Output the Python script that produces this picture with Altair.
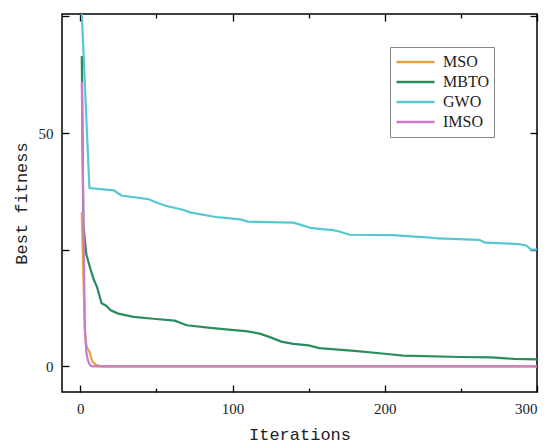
import altair as alt
import pandas as pd

# ---- data ----
gwo_x = [1, 6, 22, 27, 45, 50, 56, 68, 72, 89, 92, 105, 110, 140, 146, 152, 166, 170, 177, 205, 230, 235, 262, 266, 288, 293, 296, 300]
gwo_y = [75.5, 38.2, 37.7, 36.6, 35.8, 35.1, 34.4, 33.5, 33.0, 32.0, 31.9, 31.5, 31.0, 30.8, 30.2, 29.6, 29.2, 28.9, 28.2, 28.1, 27.6, 27.4, 27.1, 26.5, 26.2, 25.9, 25.0, 25.0]

mbto_x = [1, 2, 3, 4, 5, 7, 9, 11, 14, 17, 20, 25, 35, 48, 62, 66, 70, 87, 110, 118, 125, 132, 140, 150, 157, 180, 200, 212, 250, 270, 285, 300]
mbto_y = [66.5, 31.0, 27.0, 24.0, 22.8, 20.5, 18.5, 17.0, 13.5, 13.0, 12.0, 11.3, 10.6, 10.2, 9.8, 9.3, 8.8, 8.2, 7.5, 7.0, 6.2, 5.3, 4.8, 4.5, 3.9, 3.3, 2.7, 2.3, 2.0, 1.9, 1.6, 1.5]

mso_x = [1, 2, 3, 4, 5, 6, 7, 8, 10, 12, 14, 300]
mso_y = [33.0, 20.0, 8.0, 4.5, 3.6, 3.2, 2.0, 1.0, 0.4, 0.1, 0.0, 0.0]

imso_x = [1, 2, 3, 4, 5, 6, 7, 8, 300]
imso_y = [61.0, 34.0, 8.0, 3.0, 1.3, 0.5, 0.1, 0.0, 0.0]

series_names = ["MSO", "MBTO", "GWO", "IMSO"]
series_colors = ["#E5A43C", "#2A8C5F", "#55C8D3", "#CB7BCB"]

x_label_vals = [0, 100, 200, 300]
x_minor_vals = [50, 150, 250]
y_label_vals = [0, 50]
y_tick_vals = [0, 25, 50, 75]

# draw order: GWO, MBTO, MSO, IMSO (IMSO on top)
rows = []
for name, xs, ys in [("GWO", gwo_x, gwo_y), ("MBTO", mbto_x, mbto_y),
                     ("MSO", mso_x, mso_y), ("IMSO", imso_x, imso_y)]:
    for i, (a, b) in enumerate(zip(xs, ys)):
        rows.append({"iter": a, "val": b, "algo": name, "k": i})
df = pd.DataFrame(rows)

xscale = alt.Scale(domain=[-12, 300], nice=False, zero=False)
yscale = alt.Scale(domain=[-5.5, 75.5], nice=False, zero=False)

W, H = 475, 378
FONT_T = "Liberation Mono"
FONT_L = "Liberation Serif"

lines = alt.Chart(df).mark_line(strokeWidth=2.2).encode(
    x=alt.X("iter:Q", scale=xscale,
            axis=alt.Axis(values=x_label_vals, title="Iterations", tickSize=0,
                          domain=False, grid=False, labelPadding=9,
                          titlePadding=10, labelFont=FONT_L, labelFontSize=15,
                          titleFont=FONT_T, titleFontSize=17, titleFontWeight="normal",
                          labelColor="#222", titleColor="#222")),
    y=alt.Y("val:Q", scale=yscale,
            axis=alt.Axis(values=y_label_vals, title="Best fitness", tickSize=0,
                          domain=False, grid=False, labelPadding=9,
                          titlePadding=8, labelFont=FONT_L, labelFontSize=15,
                          titleFont=FONT_T, titleFontSize=17, titleFontWeight="normal",
                          labelColor="#222", titleColor="#222")),
    color=alt.Color("algo:N",
                    scale=alt.Scale(domain=series_names, range=series_colors),
                    legend=alt.Legend(title=None, orient="none", legendX=328, legendY=33,
                                      symbolType="stroke", symbolSize=1444,
                                      symbolStrokeWidth=2.5, clipHeight=20,
                                      labelFont=FONT_L, labelFontSize=16,
                                      labelColor="#222", labelOffset=7,
                                      strokeColor="#888", fillColor="white",
                                      padding=5, rowPadding=0)),
    detail="algo:N",
    order="k:Q",
)


def tick_layer(xo, xv, xs, yo, yv, ys):
    xa = alt.Axis(orient=xo, values=xv, offset=-xs, tickSize=xs, labels=False,
                  domain=False, grid=False, title=None, tickColor="#000",
                  tickWidth=1.3) if xv else None
    ya = alt.Axis(orient=yo, values=yv, offset=-ys, tickSize=ys, labels=False,
                  domain=False, grid=False, title=None, tickColor="#000",
                  tickWidth=1.3) if yv else None
    return alt.Chart(df).mark_line(opacity=0).encode(
        x=alt.X("iter:Q", scale=xscale, axis=xa),
        y=alt.Y("val:Q", scale=yscale, axis=ya),
        detail="algo:N",
    )


layers = [
    lines,
    tick_layer("bottom", x_label_vals, 7, "left", y_tick_vals, 7),
    tick_layer("bottom", x_minor_vals, 4, "right", y_tick_vals, 7),
    tick_layer("top", x_label_vals, 7, "left", None, 0),
    tick_layer("top", x_minor_vals, 4, "left", None, 0),
]

chart = alt.layer(*layers).resolve_scale(
    x="shared", y="shared"
).resolve_axis(
    x="independent", y="independent"
).properties(
    width=W, height=H,
    autosize=alt.AutoSizeParams(type="none"),
    padding={"left": 62, "top": 14, "right": 17, "bottom": 54},
    background="white",
).configure_view(
    stroke="#000", strokeWidth=1.5
)

chart.save("out.html", embed_options={"renderer": "svg", "actions": False})
